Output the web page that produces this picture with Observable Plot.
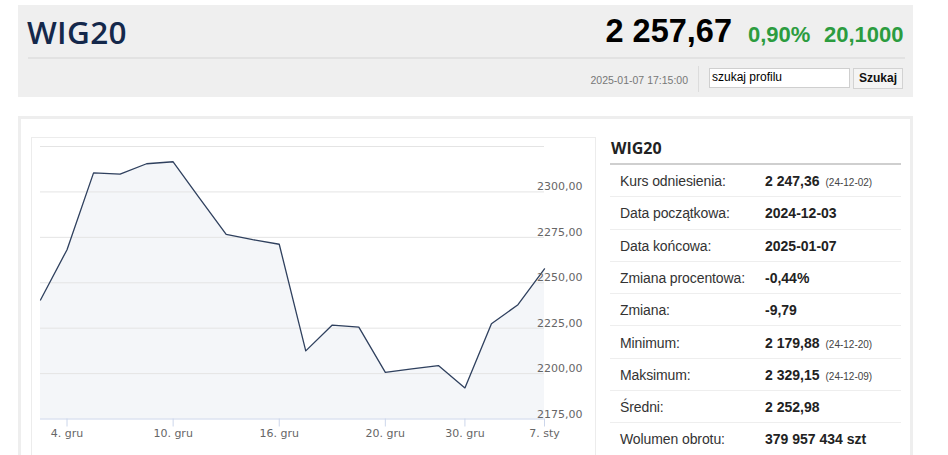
<!DOCTYPE html>
<html>
<head>
<meta charset="utf-8">
<script src="https://cdn.jsdelivr.net/npm/d3@7"></script>
<script src="https://cdn.jsdelivr.net/npm/@observablehq/plot@0.6"></script>
<style>
  html, body { margin:0; padding:0; background:#fff; overflow:hidden; width:948px; height:455px;
    font-family:"Liberation Sans", Arial, sans-serif; }
  .abs { position:absolute; box-sizing:border-box; }
  #hdr { left:18px; top:5px; width:895px; height:92px; background:#efefef; }
  #title { left:27px; top:11px; font-family:"Open Sans", sans-serif; font-weight:600; font-size:31.5px; line-height:42px; color:#14284b; letter-spacing:0.3px; }
  #hline { left:28px; top:57px; width:877px; height:2px; background:#e2e2e2; }
  #price { left:480px; width:252px; top:15px; text-align:right; font-weight:bold; font-size:32.5px; line-height:32px; color:#000; }
  .green { top:24px; font-weight:bold; font-size:22px; line-height:22px; color:#2c9c3f; }
  #stamp { left:560px; width:128px; top:73px; text-align:right; font-size:10.5px; line-height:14px; color:#777; }
  #vsep { left:698px; top:66px; width:1px; height:26px; background:#dcdcdc; }
  #search { left:709px; top:68px; width:141px; height:20px; background:#fff; border:1px solid #cfcfcf; font-size:12px; line-height:17px; padding-left:2px; color:#000; }
  #btn { left:853px; top:68px; width:50px; height:21px; background:#f4f4f4; border:1px solid #d2d2d2; font-size:12px; font-weight:bold; line-height:19px; text-align:center; color:#111; }
  #outer { left:18px; top:116px; width:895px; height:360px; border:3px solid #eeeeee; }
  #panel { left:31px; top:137px; width:565px; height:340px; border:1px solid #ececec; }
  #chart { left:32px; top:138px; width:563px; height:317px; }
  #chart svg { display:block; max-width:none; }
  #ttitle { left:611px; top:138px; font-family:"Open Sans", sans-serif; font-weight:700; font-size:16px; line-height:20px; color:#222; }
  #tline { left:610px; top:163px; width:291px; height:2px; background:#cfcfcf; }
  .row { left:610px; width:291px; height:32.3px; border-bottom:1px solid #eeeeee; }
  .lab { position:absolute; left:10px; top:0; line-height:32px; font-size:14px; letter-spacing:-0.1px; color:#333; }
  .val { position:absolute; left:155px; top:0; line-height:32px; font-size:14px; font-weight:bold; color:#222; white-space:nowrap; }
  .note { font-size:10px; font-weight:normal; color:#444; margin-left:6px; }
</style>
</head>
<body>
<div id="hdr" class="abs"></div>
<div id="title" class="abs">WIG20</div>
<div id="hline" class="abs"></div>
<div id="price" class="abs"></div>
<div id="g1" class="abs green" style="left:748px"></div>
<div id="g2" class="abs green" style="left:824px"></div>
<div id="stamp" class="abs"></div>
<div id="vsep" class="abs"></div>
<div id="search" class="abs">szukaj profilu</div>
<div id="btn" class="abs">Szukaj</div>
<div id="outer" class="abs"></div>
<div id="panel" class="abs"></div>
<div id="chart" class="abs"></div>
<div id="ttitle" class="abs">WIG20</div>
<div id="tline" class="abs"></div>
<div id="table"></div>
<script>
// ---- data ----
const indexName = "WIG20";
const lastPrice = "2 257,67";
const changePct = "0,90%";
const changeAbs = "20,1000";
const timestamp = "2025-01-07 17:15:00";

const dates = ["2024-12-03","2024-12-04","2024-12-05","2024-12-06","2024-12-09","2024-12-10",
  "2024-12-11","2024-12-12","2024-12-13","2024-12-16","2024-12-17","2024-12-18","2024-12-19",
  "2024-12-20","2024-12-23","2024-12-27","2024-12-30","2025-01-02","2025-01-03","2025-01-07"];
const values = [2240.5, 2268.2, 2310.5, 2309.8, 2315.5, 2316.6, 2296.5, 2276.6, 2273.7, 2271.2,
  2212.5, 2226.7, 2225.6, 2200.7, 2202.6, 2204.4, 2192.1, 2227.4, 2237.9, 2257.67];

const tickDates = ["2024-12-04","2024-12-10","2024-12-16","2024-12-20","2024-12-30","2025-01-07"];
const tickLabels = ["4. gru","10. gru","16. gru","20. gru","30. gru","7. sty"];
const yTicks = [2175, 2200, 2225, 2250, 2275, 2300];
const gridTicks = [2200, 2225, 2250, 2275, 2300, 2325];
const yDomain = [2175, 2325];

const statLabels = ["Kurs odniesienia:", "Data początkowa:", "Data końcowa:", "Zmiana procentowa:",
  "Zmiana:", "Minimum:", "Maksimum:", "Średni:", "Wolumen obrotu:"];
const statValues = ["2 247,36", "2024-12-03", "2025-01-07", "-0,44%", "-9,79", "2 179,88",
  "2 329,15", "2 252,98", "379 957 434 szt"];
const statNotes = ["(24-12-02)", "", "", "", "", "(24-12-20)", "(24-12-09)", "", ""];

// ---- header ----
document.getElementById("title").textContent = indexName;
document.getElementById("ttitle").textContent = indexName;
document.getElementById("price").textContent = lastPrice;
document.getElementById("g1").textContent = changePct;
document.getElementById("g2").textContent = changeAbs;
document.getElementById("stamp").textContent = timestamp;

// ---- table ----
const table = document.getElementById("table");
statLabels.forEach((lab, i) => {
  const row = document.createElement("div");
  row.className = "abs row";
  row.style.top = (165 + i * 32.3) + "px";
  const l = document.createElement("div");
  l.className = "lab"; l.textContent = lab;
  const v = document.createElement("div");
  v.className = "val"; v.textContent = statValues[i];
  if (statNotes[i]) {
    const n = document.createElement("span");
    n.className = "note"; n.textContent = statNotes[i];
    v.appendChild(n);
  }
  row.appendChild(l); row.appendChild(v);
  table.appendChild(row);
});

// ---- chart (trading days evenly spaced: x = session index) ----
const data = dates.map((d, i) => ({i, date: d, value: values[i]}));
const tickIdx = tickDates.map(d => dates.indexOf(d));
const fmt = d => d3.format(".2f")(d).replace(".", ",");
const chart = Plot.plot({
  width: 563,
  height: 317,
  marginLeft: 8,
  marginRight: 51,
  marginTop: 8,
  marginBottom: 36.5,
  style: {fontFamily: "DejaVu Sans, sans-serif", fontSize: "11px", color: "#666", background: "transparent", overflow: "visible"},
  x: {type: "linear", domain: [0, dates.length - 1], range: [8, 512], axis: null, label: null},
  y: {domain: yDomain, range: [280.5, 8], axis: null, label: null},
  marks: [
    Plot.areaY(data, {x: "i", y1: yDomain[0], y2: "value", fill: "#f4f6f9"}),
    Plot.ruleY(gridTicks, {stroke: "#e4e4e4", strokeWidth: 1}),
    Plot.ruleY([yDomain[0]], {stroke: "#ccd6eb", strokeWidth: 1}),
    Plot.lineY(data, {x: "i", y: "value", stroke: "#2f405e", strokeWidth: 1.3}),
    Plot.axisX({ticks: tickIdx, tickFormat: k => tickLabels[tickIdx.indexOf(k)], label: null,
      tickSize: 8, tickPadding: 2, stroke: "#ccd6eb", fill: "#666"}),
    Plot.axisY({anchor: "right", ticks: yTicks, tickFormat: fmt, tickSize: 0, tickPadding: 0, label: null,
      textAnchor: "end", dx: 38, dy: -5, fill: "#666"})
  ]
});
document.getElementById("chart").appendChild(chart);
</script>
</body>
</html>
